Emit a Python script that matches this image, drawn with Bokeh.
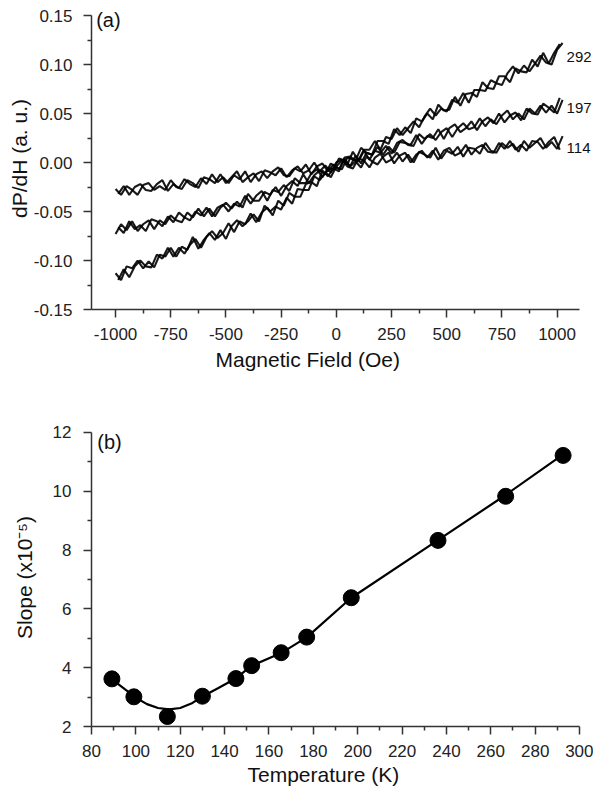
from bokeh.plotting import figure
from bokeh.models import Range1d, FixedTicker, Label, NumeralTickFormatter, Title
from bokeh.layouts import column
from bokeh.embed import file_html
from bokeh.resources import INLINE

# ---------------- Panel (a): dP/dH vs magnetic field ----------------
field_up = list(range(-1000, 1026, 25))    # Oe, first sweep grid
field_down = list(range(-988, 1013, 25))   # Oe, second sweep grid

dpdh_292_up = [-0.113, -0.120, -0.106, -0.108, -0.100, -0.108, -0.101, -0.107, -0.094, -0.096,
               -0.087, -0.096, -0.086, -0.089, -0.076, -0.088, -0.079, -0.072, -0.079, -0.069,
               -0.078, -0.065, -0.059, -0.065, -0.060, -0.053, -0.060, -0.044, -0.050, -0.045,
               -0.048, -0.036, -0.042, -0.027, -0.028, -0.028, -0.014, -0.018, -0.010, -0.015,
               -0.004, 0.002, -0.002, 0.011, 0.002, 0.013, 0.013, 0.022, 0.013, 0.026,
               0.024, 0.035, 0.028, 0.035, 0.042, 0.036, 0.047, 0.055, 0.048, 0.055,
               0.052, 0.064, 0.061, 0.071, 0.061, 0.074, 0.074, 0.073, 0.084, 0.081,
               0.079, 0.091, 0.098, 0.091, 0.099, 0.093, 0.101, 0.109, 0.102, 0.100,
               0.115, 0.122]
dpdh_292_down = [-0.120, -0.109, -0.117, -0.106, -0.100, -0.106, -0.107, -0.094, -0.098, -0.087,
                 -0.096, -0.087, -0.093, -0.084, -0.078, -0.087, -0.076, -0.070, -0.077, -0.072,
                 -0.062, -0.071, -0.060, -0.063, -0.052, -0.061, -0.051, -0.046, -0.054, -0.039,
                 -0.044, -0.031, -0.035, -0.035, -0.022, -0.020, -0.024, -0.008, -0.014, -0.006,
                 -0.009, 0.005, 0.006, 0.002, 0.015, 0.010, 0.008, 0.022, 0.022, 0.019,
                 0.034, 0.028, 0.036, 0.030, 0.045, 0.042, 0.050, 0.044, 0.059, 0.053,
                 0.054, 0.067, 0.058, 0.070, 0.071, 0.067, 0.082, 0.076, 0.075, 0.088,
                 0.088, 0.082, 0.096, 0.093, 0.092, 0.105, 0.098, 0.112, 0.101, 0.112,
                 0.121]

dpdh_197_up = [-0.073, -0.063, -0.069, -0.060, -0.070, -0.063, -0.059, -0.068, -0.059, -0.063,
               -0.054, -0.059, -0.061, -0.051, -0.056, -0.047, -0.055, -0.047, -0.055, -0.046,
               -0.041, -0.047, -0.040, -0.046, -0.032, -0.039, -0.039, -0.030, -0.033, -0.025,
               -0.034, -0.024, -0.019, -0.024, -0.012, -0.021, -0.013, -0.008, -0.012, -0.001,
               -0.005, -0.007, 0.005, 0.003, 0.001, 0.012, 0.003, 0.012, 0.010, 0.017,
               0.009, 0.020, 0.023, 0.018, 0.017, 0.029, 0.024, 0.029, 0.023, 0.031,
               0.035, 0.026, 0.035, 0.040, 0.034, 0.036, 0.045, 0.037, 0.044, 0.039,
               0.048, 0.053, 0.044, 0.050, 0.044, 0.055, 0.050, 0.058, 0.051, 0.058,
               0.050, 0.064]
dpdh_197_down = [-0.066, -0.072, -0.060, -0.068, -0.064, -0.070, -0.058, -0.060, -0.065, -0.055,
                 -0.061, -0.051, -0.056, -0.059, -0.050, -0.054, -0.046, -0.055, -0.046, -0.043,
                 -0.050, -0.042, -0.045, -0.034, -0.042, -0.034, -0.029, -0.039, -0.028, -0.030,
                 -0.023, -0.029, -0.016, -0.021, -0.021, -0.011, -0.007, -0.015, -0.006, -0.007,
                 0.004, 0.002, -0.004, 0.007, -0.001, 0.010, 0.008, 0.016, 0.008, 0.016,
                 0.010, 0.021, 0.020, 0.018, 0.028, 0.019, 0.027, 0.025, 0.034, 0.024,
                 0.035, 0.039, 0.031, 0.035, 0.042, 0.033, 0.042, 0.046, 0.040, 0.050,
                 0.041, 0.048, 0.051, 0.043, 0.055, 0.050, 0.049, 0.060, 0.056, 0.051,
                 0.066]

dpdh_114_up = [-0.027, -0.033, -0.024, -0.028, -0.033, -0.023, -0.021, -0.028, -0.024, -0.028,
               -0.018, -0.025, -0.027, -0.018, -0.021, -0.026, -0.015, -0.017, -0.021, -0.012,
               -0.021, -0.015, -0.009, -0.020, -0.015, -0.011, -0.019, -0.008, -0.010, -0.013,
               -0.006, -0.015, -0.008, -0.004, -0.011, -0.008, 0.000, -0.009, -0.003, -0.010,
               0.000, 0.003, -0.004, -0.006, 0.004, 0.002, -0.005, 0.005, 0.009, 0.000,
               0.003, 0.010, 0.001, 0.008, 0.000, 0.011, 0.008, 0.005, 0.015, 0.004,
               0.012, 0.009, 0.016, 0.006, 0.015, 0.014, 0.009, 0.020, 0.012, 0.010,
               0.020, 0.015, 0.019, 0.011, 0.022, 0.015, 0.020, 0.025, 0.015, 0.021,
               0.014, 0.027]
dpdh_114_down = [-0.032, -0.024, -0.033, -0.025, -0.022, -0.028, -0.029, -0.022, -0.018, -0.029,
                 -0.022, -0.026, -0.017, -0.022, -0.025, -0.016, -0.022, -0.012, -0.020, -0.015,
                 -0.021, -0.013, -0.017, -0.009, -0.020, -0.012, -0.009, -0.016, -0.009, -0.005,
                 -0.013, -0.014, -0.006, -0.009, -0.002, -0.012, -0.004, -0.001, -0.009, -0.002,
                 -0.007, 0.004, -0.004, 0.001, -0.005, 0.006, 0.001, -0.002, 0.006, 0.010,
                 -0.001, 0.007, 0.010, 0.000, 0.008, 0.012, 0.005, 0.012, 0.003, 0.012,
                 0.015, 0.007, 0.010, 0.018, 0.008, 0.015, 0.018, 0.011, 0.010, 0.020,
                 0.014, 0.022, 0.013, 0.018, 0.012, 0.022, 0.021, 0.014, 0.021, 0.026,
                 0.013]

trace_labels = ["292", "197", "114"]
label_field = [1043, 1043, 1043]
label_value = [0.108, 0.056, 0.0153]

field_ticks = [-1000, -750, -500, -250, 0, 250, 500, 750, 1000]
field_minor = [-875, -625, -375, -125, 125, 375, 625, 875]
dpdh_ticks = [-0.15, -0.10, -0.05, 0.00, 0.05, 0.10, 0.15]
dpdh_minor = [-0.125, -0.075, -0.025, 0.025, 0.075, 0.125]

# ---------------- Panel (b): slope vs temperature ----------------
temp = [89.2, 99.1, 114.2, 130.0, 145.1, 152.2, 165.5, 177.0, 197.1, 236.2, 266.7, 292.6]
slope = [3.62, 3.01, 2.34, 3.03, 3.63, 4.07, 4.51, 5.04, 6.38, 8.33, 9.83, 11.22]

fit_temp = [89, 95, 100, 105, 110, 115, 120, 125, 130, 137, 145, 152, 166, 177, 197, 236, 266, 292]
fit_slope = [3.62, 3.27, 2.98, 2.76, 2.63, 2.58, 2.63, 2.78, 3.02, 3.30, 3.63, 4.06, 4.52, 5.03,
             6.37, 8.33, 9.84, 11.22]

temp_ticks = list(range(80, 301, 20))
temp_minor = list(range(90, 300, 20))
slope_ticks = [2, 4, 6, 8, 10, 12]
slope_minor = [3, 5, 7, 9, 11]

FONT = "Liberation Sans"


def style_axes(p, xt, xm, yt, ym, xb, yb, y_lab_standoff, y_title_standoff, x_lab_standoff):
    p.outline_line_color = None
    p.xgrid.visible = False
    p.ygrid.visible = False
    p.background_fill_color = "white"
    p.border_fill_color = "white"
    for ax in (p.xaxis[0], p.yaxis[0]):
        ax.axis_line_color = "#333333"
        ax.axis_line_width = 1.5
        ax.major_tick_line_color = "#333333"
        ax.major_tick_line_width = 1.5
        ax.minor_tick_line_color = "#333333"
        ax.minor_tick_line_width = 1.5
        ax.major_tick_out = 8
        ax.major_tick_in = 0
        ax.minor_tick_out = 4
        ax.minor_tick_in = 0
        ax.major_label_text_font = FONT
        ax.major_label_text_font_size = "17px"
        ax.major_label_text_color = "#222222"
        ax.axis_label_text_font = FONT
        ax.axis_label_text_font_size = "21px"
        ax.axis_label_text_font_style = "normal"
        ax.axis_label_text_color = "#111111"
    p.xaxis[0].ticker = FixedTicker(ticks=xt, minor_ticks=xm)
    p.yaxis[0].ticker = FixedTicker(ticks=yt, minor_ticks=ym)
    p.xaxis[0].bounds = xb
    p.yaxis[0].bounds = yb
    p.xaxis[0].formatter = NumeralTickFormatter(format="0")
    p.yaxis[0].major_label_standoff = y_lab_standoff
    p.yaxis[0].axis_label_standoff = y_title_standoff
    p.xaxis[0].major_label_standoff = x_lab_standoff


def x_title(p, text, offset, standoff):
    p.add_layout(Title(text=text, align="left", offset=offset, standoff=standoff,
                       text_font=FONT, text_font_size="21px", text_font_style="normal",
                       text_color="#111111"), "below")


# ---------- figure (a) ----------
p1 = figure(width=593, height=400, output_backend="svg", toolbar_location=None,
            x_range=Range1d(-1109, 1165), y_range=Range1d(-0.15, 0.1582),
            min_border_left=91, min_border_right=0, min_border_top=7, min_border_bottom=91,
            y_axis_label="dP/dH (a. u.)")
style_axes(p1, field_ticks, field_minor, dpdh_ticks, dpdh_minor,
           (-1109, 1102), (-0.15, 0.15), 11, 0, 10)
p1.yaxis[0].formatter = NumeralTickFormatter(format="0.00")
x_title(p1, "Magnetic Field (Oe)", 124, 6)

for series in (dpdh_292_up, dpdh_197_up, dpdh_114_up):
    p1.line(field_up, series, line_color="black", line_width=2.1, line_alpha=0.9)
for series in (dpdh_292_down, dpdh_197_down, dpdh_114_down):
    p1.line(field_down, series, line_color="black", line_width=2.1, line_alpha=0.9)

for t, fx, fy in zip(trace_labels, label_field, label_value):
    p1.add_layout(Label(x=fx, y=fy, text=t, text_font=FONT, text_font_size="15px",
                        text_baseline="middle", text_align="left", text_color="#111111"))

p1.add_layout(Label(x=-1088, y=0.1456, text="(a)", text_font=FONT, text_font_size="20px",
                    text_baseline="middle", text_align="left", text_color="#111111"))

# ---------- figure (b) ----------
p2 = figure(width=593, height=391, output_backend="svg", toolbar_location=None,
            x_range=Range1d(80, 306.3), y_range=Range1d(2, 12.136),
            min_border_left=91, min_border_right=0, min_border_top=28, min_border_bottom=65,
            y_axis_label="Slope (x10\u207b\u2075)")
style_axes(p2, temp_ticks, temp_minor, slope_ticks, slope_minor,
           (80, 300), (2, 12), 12, 14, 10)
x_title(p2, "Temperature (K)", 156, 2)

p2.line(fit_temp, fit_slope, line_color="black", line_width=2.2)
p2.scatter(temp, slope, size=16, marker="circle", fill_color="black", line_color="black")

p2.add_layout(Label(x=82.6, y=11.66, text="(b)", text_font=FONT, text_font_size="20px",
                    text_baseline="middle", text_align="left", text_color="#111111"))

layout = column(p1, p2, spacing=0)
open("out.html", "w").write(file_html(layout, INLINE))
